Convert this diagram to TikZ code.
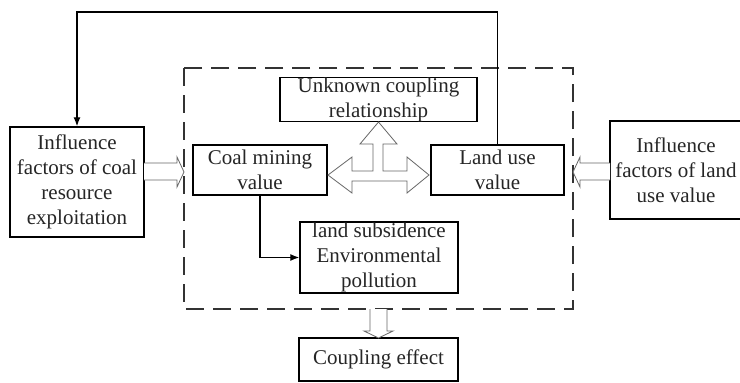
\documentclass[tikz,border=0pt]{standalone}
\usepackage{fontspec}
\setmainfont{Liberation Serif}
\newfontfamily\tnr{Liberation Serif}
\usetikzlibrary{arrows.meta}
\begin{document}
\begin{tikzpicture}[x=1pt,y=-1pt,
  box/.style={draw=black,line width=1.4pt,inner sep=0pt,align=center,
    font=\tnr\fontsize{21}{25}\selectfont,text=black!85},
  hollow/.style={draw=black!60,line width=0.8pt,fill=white,line join=miter},
  conn/.style={draw=black,line width=1.3pt},
  dashbox/.style={draw=black!80,line width=1.2pt,dash pattern=on 18pt off 9pt}]
\useasboundingbox (0,0) rectangle (740,383);
\fill[white] (0,0) rectangle (740,383);
% dashed frame
\draw[dashbox] (184,68) rectangle (573,309);
% nodes
\node[box,minimum width=134pt,minimum height=110pt] (leftbox) at (77,182)
  {Influence\\factors of coal\\resource\\exploitation};
\node[box,minimum width=132pt,minimum height=98pt] (rightbox) at (676,170)
  {Influence\\factors of land\\use value};
\node[box,minimum width=197pt,minimum height=43pt] (unknown) at (378.5,99.5)
  {Unknown coupling\\relationship};
\node[box,minimum width=134pt,minimum height=50pt] (coal) at (260,170)
  {Coal mining\\value};
\node[box,minimum width=133pt,minimum height=50pt] (land) at (497.5,170)
  {Land use\\value};
\node[box,minimum width=158pt,minimum height=71pt] (subs) at (379,257.5)
  {land subsidence\\Environmental\\pollution};
\node[box,minimum width=159pt,minimum height=43pt] (coupling) at (378.5,359.5)
  {Coupling effect};
\coordinate (topline) at (497,12);
% connectors
\draw[conn,-{Latex[length=9pt,width=7pt]}] (coal.south) |- (subs.west);
\draw[conn,-{Latex[length=9pt,width=7pt]}] (land.north) -- (land.north |- topline) -| (leftbox.north);
% hollow arrows
\draw[hollow] (144,163) -- (177,163) -- (177,157) -- (184,172) -- (177,187) -- (177,180) -- (144,180);
\draw[hollow] (610,163) -- (580,163) -- (580,157) -- (573,172) -- (580,187) -- (580,180) -- (610,180);
\draw[hollow] (328,175) -- (352,157) -- (352,171) -- (373,171) -- (373,144) -- (360,144)
  -- (378.5,122) -- (397,144) -- (383,144) -- (383,171) -- (407,171) -- (407,157)
  -- (429,175) -- (407,193) -- (407,181) -- (352,181) -- (352,193) -- cycle;
\draw[hollow] (370,309) -- (370,331) -- (364,331) -- (378.5,338) -- (393,331) -- (387,331) -- (387,309);
\end{tikzpicture}
\end{document}
